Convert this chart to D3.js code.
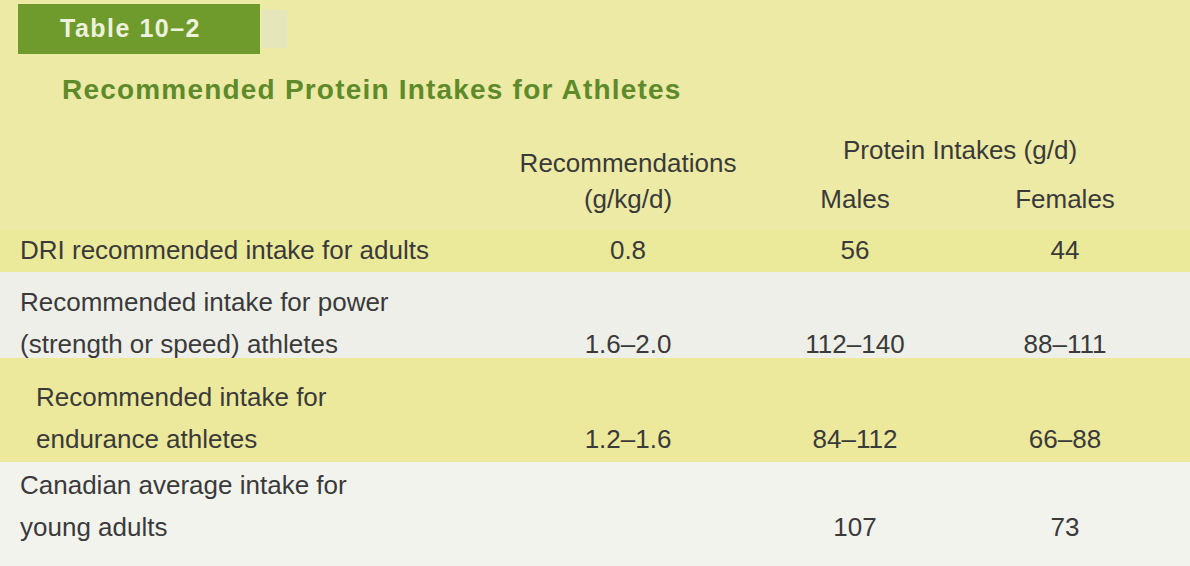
<!DOCTYPE html>
<html><head><meta charset="utf-8">
<script src="https://d3js.org/d3.v7.min.js"></script>
<style>body{margin:0;background:#f1f1ec;font-family:"Liberation Sans",Arial,sans-serif;}</style>
</head><body>
<svg id="chart" width="1190" height="566"></svg>
<script>
const rowLabels = [
  ["DRI recommended intake for adults"],
  ["Recommended intake for power", "(strength or speed) athletes"],
  ["Recommended intake for", "endurance athletes"],
  ["Canadian average intake for", "young adults"]
];
const recommendations = ["0.8", "1.6–2.0", "1.2–1.6", ""];
const males = ["56", "112–140", "84–112", "107"];
const females = ["44", "88–111", "66–88", "73"];
const rowFills = ["#ebe99a", "#efefe9", "#ece99c", "#f3f3ee"];

const svg = d3.select("#chart");
const ink = "#3a3a3a";

// header band
svg.append("rect").attr("x", 0).attr("y", 0).attr("width", 1190).attr("height", 230).attr("fill", "#eceaa4");

const rowTop = [230, 272, 358, 462], rowBot = [272, 358, 462, 566];
const baseline = [259, 353, 448, 536];

svg.selectAll("rect.row").data(d3.range(4)).join("rect")
  .attr("class", "row").attr("x", 0).attr("width", 1190)
  .attr("y", i => rowTop[i]).attr("height", i => rowBot[i] - rowTop[i])
  .attr("fill", i => rowFills[i]);

// tag
svg.append("rect").attr("x", 18).attr("y", 4).attr("width", 242).attr("height", 50).attr("fill", "#6f9a2c");
svg.append("rect").attr("x", 262).attr("y", 10).attr("width", 25).attr("height", 38).attr("fill", "#e6e6bc");
svg.append("text").attr("x", 60).attr("y", 37).attr("fill", "#eef2dc")
  .attr("font-size", 25).attr("font-weight", "bold").attr("letter-spacing", 1.5).text("Table 10–2");
svg.append("text").attr("x", 62).attr("y", 99).attr("fill", "#5e8a2c")
  .attr("font-size", 28).attr("font-weight", "bold").attr("letter-spacing", 1.2).text("Recommended Protein Intakes for Athletes");

const colX = {rec: 628, m: 855, f: 1065};
const head = svg.append("g").attr("fill", ink).attr("font-size", 26).attr("text-anchor", "middle");
head.append("text").attr("x", colX.rec).attr("y", 172).text("Recommendations");
head.append("text").attr("x", colX.rec).attr("y", 208).text("(g/kg/d)");
head.append("text").attr("x", 960).attr("y", 159).text("Protein Intakes (g/d)");
head.append("text").attr("x", colX.m).attr("y", 208).text("Males");
head.append("text").attr("x", colX.f).attr("y", 208).text("Females");

const rows = svg.selectAll("g.r").data(d3.range(4)).join("g").attr("class", "r")
  .attr("fill", ink).attr("font-size", 26);
rows.each(function(i) {
  const g = d3.select(this);
  const base = baseline[i];
  const lx = i === 2 ? 36 : 20;
  rowLabels[i].forEach((t, k, a) => {
    g.append("text").attr("x", lx).attr("y", base - (a.length - 1 - k) * 42).text(t);
  });
  g.append("text").attr("x", colX.rec).attr("y", base).attr("text-anchor", "middle").text(recommendations[i]);
  g.append("text").attr("x", colX.m).attr("y", base).attr("text-anchor", "middle").text(males[i]);
  g.append("text").attr("x", colX.f).attr("y", base).attr("text-anchor", "middle").text(females[i]);
});
</script>
</body></html>
